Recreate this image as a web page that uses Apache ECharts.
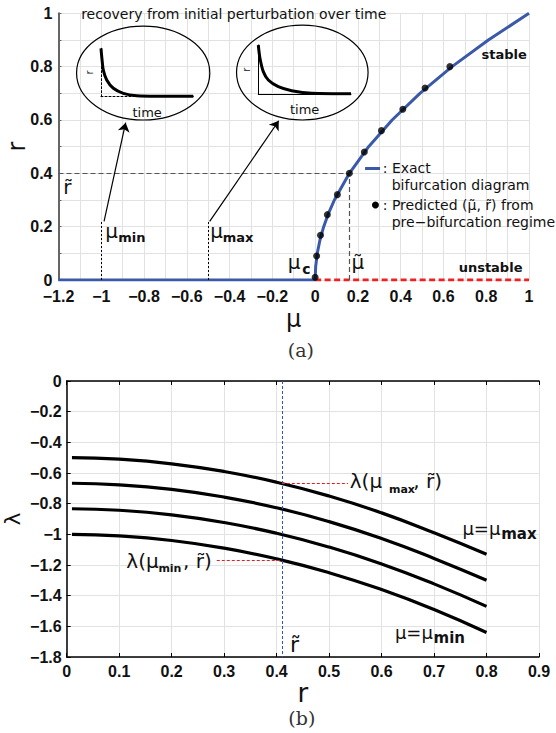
<!DOCTYPE html>
<html>
<head>
<meta charset="utf-8">
<script src="https://cdn.jsdelivr.net/npm/echarts@6/dist/echarts.min.js"></script>
<style>
  html, body { margin: 0; padding: 0; background: #fff; }
  #chart { width: 556px; height: 733px; }
</style>
</head>
<body>
<div id="chart"></div>
<script>
// ---- (a) bifurcation diagram ----
var stableMu = [-1.2, 0, 0.0025, 0.01, 0.0225, 0.04, 0.0625, 0.09, 0.16, 0.25, 0.36, 0.49, 0.64, 0.81, 1];
var stableR  = [0, 0, 0.05, 0.1, 0.15, 0.2, 0.25, 0.3, 0.4, 0.5, 0.6, 0.7, 0.8, 0.9, 1];
var unstableMu = [0, 1];
var unstableR  = [0, 0];
var predMu = [0, 0.007, 0.025, 0.057, 0.104, 0.16, 0.23, 0.31, 0.41, 0.514, 0.63];
var predR  = [0.01, 0.09, 0.168, 0.245, 0.32, 0.40, 0.48, 0.56, 0.64, 0.72, 0.80];
var muMin = -1, muMax = -0.5, muTilde = 0.16, rTildeA = 0.4;

// insets: recovery over time (fast at mu_min, slow at mu_max)
var fastT = [0, 0.012, 0.025, 0.062, 0.134, 0.242, 0.387, 0.6, 1];
var fastR = [1, 0.75, 0.55, 0.345, 0.174, 0.07, 0.02, 0.01, 0.01];
var slowT = [0, 0.018, 0.054, 0.108, 0.216, 0.36, 0.576, 1];
var slowR = [1, 0.73, 0.46, 0.29, 0.154, 0.073, 0.02, 0.01];

// ---- (b) eigenvalue vs r ----
var rVals   = [0.01, 0.1, 0.2, 0.3, 0.4, 0.5, 0.6, 0.7, 0.8];
var lamMax  = [-0.50, -0.51, -0.54, -0.59, -0.66, -0.75, -0.86, -0.99, -1.13];
var lamMid1 = [-0.667, -0.677, -0.707, -0.757, -0.827, -0.917, -1.027, -1.157, -1.30];
var lamMid2 = [-0.833, -0.843, -0.873, -0.923, -0.993, -1.083, -1.193, -1.323, -1.47];
var lamMin  = [-1.00, -1.01, -1.04, -1.09, -1.16, -1.25, -1.36, -1.49, -1.64];
var rTilde = 0.41, lamAtMax = -0.667, lamAtMin = -1.168;

function pairs(xs, ys) { return xs.map(function (x, i) { return [x, ys[i]]; }); }
function fmt(v) { return String(Math.round(v * 100) / 100).replace('-', '\u2212'); }

var GRIDC = '#e2e2e2';
var BLUE = '#3b59a9';
var tickFont = { fontFamily: 'Liberation Sans', fontWeight: 'bold', fontSize: 16, color: '#111' };
var sans = 'DejaVu Sans';

var chart = echarts.init(document.getElementById('chart'), null, { renderer: 'svg' });

function curve(data) {
  return {
    type: 'line', xAxisIndex: 1, yAxisIndex: 1, data: data, smooth: true,
    symbol: 'none', lineStyle: { color: '#000', width: 3.2 }, z: 3
  };
}
function insetAxisX(grid, dashed) {
  return {
    gridIndex: grid, type: 'value', min: 0, max: 1,
    axisLine: { onZero: false, lineStyle: { color: '#000', width: 1, type: dashed ? [2, 2] : 'solid' } },
    axisTick: { show: false }, axisLabel: { show: false }, splitLine: { show: false },
    name: 'time', nameLocation: 'middle', nameGap: 9,
    nameTextStyle: { fontFamily: sans, fontSize: 13, color: '#111' }
  };
}
function insetAxisY(grid, dashed) {
  return {
    gridIndex: grid, type: 'value', min: 0, max: 1,
    axisLine: { onZero: false, lineStyle: { color: '#000', width: 1, type: dashed ? [2, 2] : 'solid' } },
    axisTick: { show: false }, axisLabel: { show: false }, splitLine: { show: false },
    name: 'r', nameLocation: 'middle', nameGap: 7, nameRotate: 90,
    nameTextStyle: { fontFamily: sans, fontSize: 10, color: '#111' }
  };
}

var dashGray = { color: '#555', type: [5, 3], width: 1.2 };
var dotBlack = { color: '#000', type: [2, 2], width: 1 };
var arrowLine = { color: '#000', type: 'solid', width: 1.2 };

var option = {
  animation: false,
  backgroundColor: '#fff',
  grid: [
    { left: 58.5, top: 13.3, width: 470.5, height: 266.7, outerBoundsMode: 'none', containLabel: false },
    { left: 66.7, top: 381, width: 472.3, height: 276, outerBoundsMode: 'none', containLabel: false },
    { left: 101, top: 48.3, width: 92.3, height: 48.4, outerBoundsMode: 'none', containLabel: false },
    { left: 258.3, top: 45, width: 92.7, height: 49.3, outerBoundsMode: 'none', containLabel: false }
  ],
  xAxis: [
    {
      gridIndex: 0, type: 'value', min: -1.2, max: 1, interval: 0.2,
      axisLine: { show: false, onZero: false }, axisTick: { show: false },
      axisLabel: Object.assign({ margin: 8, formatter: fmt, showMinLabel: true, showMaxLabel: true }, tickFont),
      splitLine: { lineStyle: { color: GRIDC } },
      minorTick: { show: false, splitNumber: 2 },
      minorSplitLine: { show: true, lineStyle: { color: GRIDC } },
      name: '\u03bc', nameLocation: 'middle', nameGap: 27,
      nameTextStyle: { fontFamily: sans, fontSize: 24, color: '#111' }
    },
    {
      gridIndex: 1, type: 'value', min: 0, max: 0.9, interval: 0.1,
      axisLine: { onZero: false, lineStyle: { color: '#000', width: 1.5 } },
      axisTick: { inside: true, length: 4, lineStyle: { color: '#000' } },
      axisLabel: Object.assign({ margin: 6, formatter: fmt, showMinLabel: true, showMaxLabel: true }, tickFont),
      splitLine: { lineStyle: { color: GRIDC } },
      name: 'r', nameLocation: 'middle', nameGap: 22,
      nameTextStyle: { fontFamily: sans, fontSize: 26, color: '#111' }
    },
    {
      gridIndex: 1, type: 'value', min: 0, max: 0.9, interval: 0.1, position: 'top',
      axisLine: { onZero: false, lineStyle: { color: '#000', width: 1.5 } },
      axisTick: { inside: true, length: 4, lineStyle: { color: '#000' } },
      axisLabel: { show: false }, splitLine: { show: false }
    },
    insetAxisX(2, true),
    insetAxisX(3, false)
  ],
  yAxis: [
    {
      gridIndex: 0, type: 'value', min: 0, max: 1, interval: 0.2,
      axisLine: { show: true, onZero: false, lineStyle: { color: '#666', width: 2 } },
      axisTick: { show: true, inside: true, length: 3, lineStyle: { color: '#666' } },
      minorTick: { show: true, splitNumber: 2, length: 3, lineStyle: { color: '#666' } },
      axisLabel: Object.assign({ margin: 6, formatter: fmt, showMinLabel: true, showMaxLabel: true }, tickFont),
      splitLine: { lineStyle: { color: GRIDC } },
      minorSplitLine: { show: true, lineStyle: { color: GRIDC } },
      name: 'r', nameLocation: 'middle', nameGap: 30, nameRotate: 90, nameMoveOverlap: false,
      nameTextStyle: { fontFamily: sans, fontSize: 24, color: '#111' }
    },
    {
      gridIndex: 1, type: 'value', min: -1.8, max: 0, interval: 0.2,
      axisLine: { onZero: false, lineStyle: { color: '#000', width: 1.5 } },
      axisTick: { inside: true, length: 4, lineStyle: { color: '#000' } },
      axisLabel: Object.assign({ margin: 5, formatter: fmt, showMinLabel: true, showMaxLabel: true }, tickFont),
      splitLine: { lineStyle: { color: GRIDC } },
      name: '\u03bb', nameLocation: 'middle', nameGap: 43, nameRotate: 90, nameMoveOverlap: false,
      nameTextStyle: { fontFamily: sans, fontSize: 22, color: '#111' }
    },
    insetAxisY(2, true),
    insetAxisY(3, false)
  ],
  series: [
    {
      type: 'line', xAxisIndex: 0, yAxisIndex: 0, data: pairs(stableMu, stableR),
      symbol: 'none', lineStyle: { color: BLUE, width: 3 }, z: 4,
      markLine: {
        silent: true, symbol: 'none', label: { show: false },
        data: [
          [{ coord: [-1.2, rTildeA], lineStyle: dashGray }, { coord: [muTilde, rTildeA] }],
          [{ coord: [muTilde, 0], lineStyle: dashGray }, { coord: [muTilde, rTildeA] }],
          [{ coord: [muMin, 0], lineStyle: dotBlack }, { coord: [muMin, 0.22] }],
          [{ coord: [muMax, 0], lineStyle: dotBlack }, { coord: [muMax, 0.22] }],
          [{ coord: [-0.987, 0.22], symbol: 'none', lineStyle: arrowLine },
           { coord: [-0.886, 0.59], symbol: 'arrow', symbolSize: 9 }],
          [{ coord: [-0.493, 0.22], symbol: 'none', lineStyle: arrowLine },
           { coord: [-0.17, 0.597], symbol: 'arrow', symbolSize: 9 }]
        ]
      }
    },
    {
      type: 'line', xAxisIndex: 0, yAxisIndex: 0, data: pairs(unstableMu, unstableR),
      symbol: 'none', lineStyle: { color: '#ee2222', width: 3, type: [6, 3.5] }, z: 3
    },
    {
      type: 'scatter', xAxisIndex: 0, yAxisIndex: 0, data: pairs(predMu, predR),
      symbolSize: 7, itemStyle: { color: '#000' }, z: 6
    },
    {
      type: 'line', xAxisIndex: 3, yAxisIndex: 2, data: pairs(fastT, fastR), smooth: 0.3,
      symbol: 'none', lineStyle: { color: '#000', width: 3 }, z: 5
    },
    {
      type: 'line', xAxisIndex: 4, yAxisIndex: 3, data: pairs(slowT, slowR), smooth: 0.3,
      symbol: 'none', lineStyle: { color: '#000', width: 3 }, z: 5
    },
    Object.assign(curve(pairs(rVals, lamMax)), {
      markLine: {
        silent: true, symbol: 'none', label: { show: false },
        data: [
          [{ coord: [rTilde, 0], lineStyle: { color: '#2b4fd6', type: [3, 2], width: 1 } }, { coord: [rTilde, -1.8] }],
          [{ coord: [rTilde, lamAtMax], lineStyle: { color: '#e02020', type: [3, 2], width: 1 } }, { coord: [0.536, lamAtMax] }],
          [{ coord: [0.286, lamAtMin], lineStyle: { color: '#e02020', type: [3, 2], width: 1 } }, { coord: [rTilde, lamAtMin] }]
        ]
      }
    }),
    curve(pairs(rVals, lamMid1)),
    curve(pairs(rVals, lamMid2)),
    curve(pairs(rVals, lamMin))
  ]
};
chart.setOption(option);

// annotations placed in data coordinates of grid 0 (a) or grid 1 (b)
function px(g, x, y) { return chart.convertToPixel({ gridIndex: g }, [x, y]); }
function note(g, x, y, text, size, weight, family) {
  var p = px(g, x, y);
  return {
    type: 'text', x: p[0], y: p[1], z: 10,
    style: {
      text: text, fontSize: size, fontWeight: weight || 'normal',
      fontFamily: family || sans, fill: '#111', align: 'left', verticalAlign: 'middle'
    }
  };
}
function ellipse(g, cx, cy, ex, ey) {
  var c = px(g, cx, cy), e = px(g, ex, ey);
  return {
    type: 'ellipse', z: 2,
    shape: { cx: c[0], cy: c[1], rx: Math.abs(e[0] - c[0]), ry: Math.abs(e[1] - c[1]) },
    style: { fill: 'none', stroke: '#000', lineWidth: 1.2 }
  };
}

var legLine0 = px(0, 0.2334, 0.418), legLine1 = px(0, 0.3035, 0.418), legDot = px(0, 0.282, 0.281);
var capA = px(0, -0.067, -0.262), capB = px(1, 0.448, -2.2);

var graphics = [
  ellipse(0, -0.804, 0.776, -0.4925, 0.6), // fast-recovery bubble
  ellipse(0, -0.060, 0.778, 0.2475, 0.6),  // slow-recovery bubble
  note(0, -1.094, 0.997, 'recovery from initial perturbation over time', 14),
  note(0, 0.778, 0.844, 'stable', 13, 'bold'),
  note(0, 0.671, 0.045, 'unstable', 13, 'bold'),
  note(0, -0.128, 0.066, '\u03bc', 20),
  note(0, -0.060, 0.040, 'c', 14, 'bold'),
  note(0, 0.170, 0.066, '\u03bc\u0303', 20),
  note(0, -1.178, 0.350, 'r\u0303', 20),
  note(0, -0.981, 0.184, '\u03bc', 20),
  note(0, -0.921, 0.159, 'min', 13, 'bold'),
  note(0, -0.491, 0.184, '\u03bc', 20),
  note(0, -0.432, 0.159, 'max', 13, 'bold'),
  {
    type: 'line', z: 10,
    shape: { x1: legLine0[0], y1: legLine0[1], x2: legLine1[0], y2: legLine1[1] },
    style: { stroke: BLUE, lineWidth: 3 }
  },
  { type: 'circle', z: 10, shape: { cx: legDot[0], cy: legDot[1], r: 3.5 }, style: { fill: '#000' } },
  note(0, 0.316, 0.420, ': Exact', 14),
  note(0, 0.358, 0.356, 'bifurcation diagram', 14),
  note(0, 0.316, 0.281, ': Predicted (\u03bc\u0303, r\u0303) from', 14),
  note(0, 0.358, 0.2175, 'pre\u2212bifurcation regime', 14),

  note(1, 0.5394, -0.652, '\u03bb(\u03bc', 20),
  note(1, 0.614, -0.708, 'max', 11, 'bold'),
  note(1, 0.6606, -0.652, ', r\u0303)', 20),
  note(1, 0.1136, -1.174, '\u03bb(\u03bc', 20),
  note(1, 0.1747, -1.226, 'min', 11, 'bold'),
  note(1, 0.2216, -1.174, ', r\u0303)', 20),
  note(1, 0.754, -0.959, '\u03bc=\u03bc', 18),
  note(1, 0.828, -0.998, 'max', 15, 'bold'),
  note(1, 0.6254, -1.637, '\u03bc=\u03bc', 18),
  note(1, 0.699, -1.676, 'min', 15, 'bold'),
  note(1, 0.4255, -1.716, 'r\u0303', 22),
  {
    type: 'text', x: capA[0], y: capA[1], z: 10,
    style: { text: '(a)', fontSize: 19, fontFamily: 'DejaVu Serif', fill: '#333', align: 'center', verticalAlign: 'middle' }
  },
  {
    type: 'text', x: capB[0], y: capB[1], z: 10,
    style: { text: '(b)', fontSize: 19, fontFamily: 'DejaVu Serif', fill: '#333', align: 'center', verticalAlign: 'middle' }
  }
];
chart.setOption({ graphic: graphics });
</script>
</body>
</html>
